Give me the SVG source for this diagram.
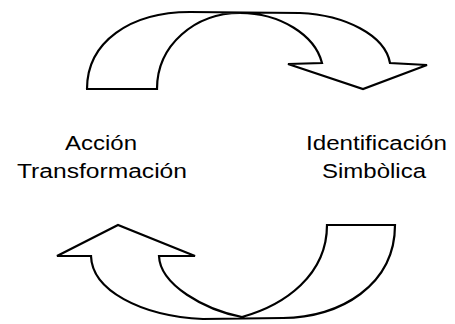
<svg xmlns="http://www.w3.org/2000/svg" width="455" height="324" viewBox="0 0 455 324">
<style>
.arrow{fill:#fff;stroke:#000;stroke-width:2.2;stroke-linejoin:miter}
.lbl{font-family:"Liberation Sans",Arial,sans-serif;font-size:20px;fill:#000}
</style>
<rect width="455" height="324" fill="#fff"/>
<g id="connectors">
<path id="top-arrow" class="arrow" d="M86,89 L157,89 C157,45 195,13 240,13 C280,13 315,35 322,63 L288,64 L363,89 L427,65 L390,63 C385,35 345,15 300,13 L190,12 C130,12 87,42 87,89 Z"/>
<path id="bottom-arrow" class="arrow" d="M57,256 L118,225 L195,256 L159,256 C160,285 205,310 242,317 C285,305 327,275 327,225 L395,225 C395,285 340,318 283,318 L203,319 C140,316 92,290 91,256 Z"/>
</g>
<g id="node-accion">
<text class="lbl" x="65" y="150" textLength="72" lengthAdjust="spacingAndGlyphs">Acción</text>
<text class="lbl" x="17" y="178" textLength="170" lengthAdjust="spacingAndGlyphs">Transformación</text>
</g>
<g id="node-identificacion">
<text class="lbl" x="306" y="150" textLength="141" lengthAdjust="spacingAndGlyphs">Identificación</text>
<text class="lbl" x="322" y="178" textLength="104" lengthAdjust="spacingAndGlyphs">Simbòlica</text>
</g>
</svg>
